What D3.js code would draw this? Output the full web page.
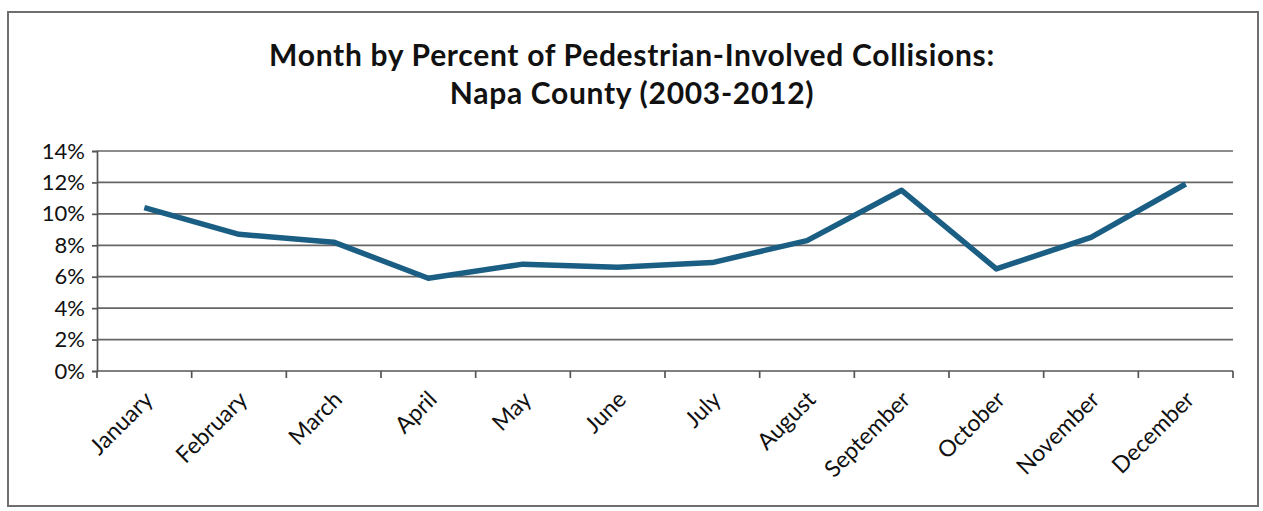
<!DOCTYPE html>
<html>
<head>
<meta charset="utf-8">
<script src="https://cdn.jsdelivr.net/npm/d3@7"></script>
<style>
  html, body { margin: 0; padding: 0; background: #fff; }
  svg { display: block; }
  text { font-family: Lato, "Open Sans", sans-serif; fill: #111; }
</style>
</head>
<body>
<svg id="chart" width="1263" height="511"></svg>
<script>
// 데이터
const MONTHS = ['January','February','March','April','May','June','July','August','September','October','November','December'];
const PCT    = [10.4, 8.7, 8.2, 5.9, 6.8, 6.6, 6.9, 8.3, 11.5, 6.5, 8.5, 11.9];
const Y_TICKS = [0, 2, 4, 6, 8, 10, 12, 14];
const TITLE_LINES = ['Month by Percent of Pedestrian-Involved Collisions:', 'Napa County (2003-2012)'];

const svg = d3.select('#chart');
const M = { left: 97, right: 1233, top: 151, bottom: 371 };

// 외곽 테두리
svg.append('rect')
  .attr('x', 8).attr('y', 12).attr('width', 1250).attr('height', 494)
  .attr('fill', '#fff').attr('stroke', '#6e6e6e').attr('stroke-width', 2);

// 제목
svg.append('g').selectAll('text')
  .data(TITLE_LINES).join('text')
  .attr('x', 632).attr('y', (d, i) => 66 + i * 38)
  .attr('text-anchor', 'middle')
  .attr('font-size', 30).attr('font-weight', 700)
  .attr('letter-spacing', 0.7)
  .text(d => d);

const x = d3.scaleBand().domain(MONTHS).range([M.left, M.right]);
const y = d3.scaleLinear().domain([0, 14]).range([M.bottom, M.top]);

// 그리드
svg.append('g').selectAll('line')
  .data(Y_TICKS.filter(d => d > 0)).join('line')
  .attr('x1', M.left).attr('x2', M.right)
  .attr('y1', d => y(d)).attr('y2', d => y(d))
  .attr('stroke', '#666').attr('stroke-width', 1.7);

// y축
const yAxis = svg.append('g')
  .attr('transform', `translate(${M.left},0)`)
  .call(d3.axisLeft(y).tickValues(Y_TICKS).tickSize(5).tickPadding(7).tickFormat(d => d + '%'));
yAxis.select('.domain').attr('stroke', '#555').attr('stroke-width', 1.7);
yAxis.selectAll('.tick line').attr('stroke', '#555').attr('stroke-width', 1.7);
yAxis.selectAll('text').attr('font-size', 22).attr('fill', '#111')
  .style('font-family', 'Lato, sans-serif');

// x축 (밴드 경계에 눈금)
const xAxis = svg.append('g')
  .attr('transform', `translate(0,${M.bottom})`);
xAxis.append('line')
  .attr('x1', M.left).attr('x2', M.right)
  .attr('stroke', '#555').attr('stroke-width', 1.7);
xAxis.selectAll('.xt')
  .data(d3.range(MONTHS.length + 1)).join('line')
  .attr('class', 'xt')
  .attr('x1', i => M.left + i * x.step()).attr('x2', i => M.left + i * x.step())
  .attr('y1', 0).attr('y2', 7)
  .attr('stroke', '#555').attr('stroke-width', 1.7);
xAxis.selectAll('.xl')
  .data(MONTHS).join('text')
  .attr('class', 'xl')
  .attr('text-anchor', 'end')
  .attr('font-size', 23)
  .attr('transform', d => `translate(${x(d) + x.bandwidth() / 2 + 10},${30}) rotate(-45)`)
  .text(d => d);

// 선
const line = d3.line()
  .x((d, i) => x(MONTHS[i]) + x.bandwidth() / 2)
  .y(d => y(d));

svg.append('path')
  .datum(PCT)
  .attr('d', line)
  .attr('fill', 'none')
  .attr('stroke', '#1b5e84')
  .attr('stroke-width', 5.5)
  .attr('stroke-linejoin', 'round');
</script>
</body>
</html>
